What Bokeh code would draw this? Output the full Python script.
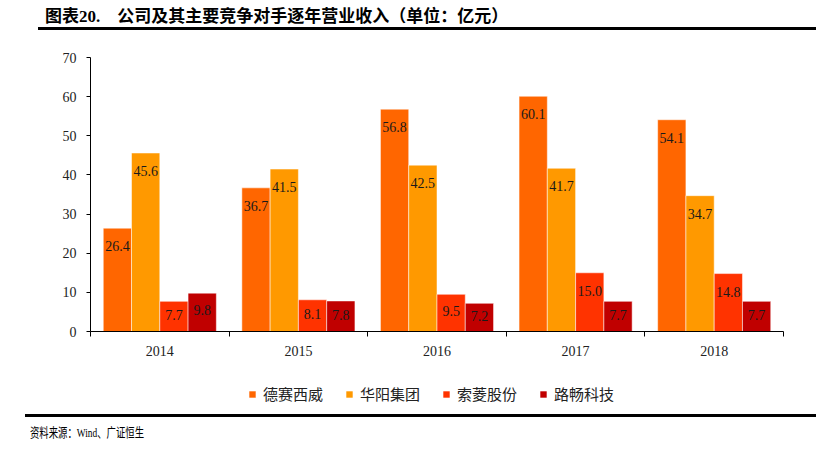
from bokeh.plotting import figure
from bokeh.models import (ColumnDataSource, FixedTicker, Legend, LegendItem,
                          Range1d, Div)
from bokeh.layouts import column
from bokeh.transform import dodge
from bokeh.core.properties import value
from bokeh.embed import file_html
from bokeh.resources import INLINE

years = ["2014", "2015", "2016", "2017", "2018"]
names = ["德赛西威", "华阳集团", "索菱股份", "路畅科技"]
desay = [26.4, 36.7, 56.8, 60.1, 54.1]
huayang = [45.6, 41.5, 42.5, 41.7, 34.7]
suoling = [7.7, 8.1, 9.5, 15.0, 14.8]
luchang = [9.8, 7.8, 7.2, 7.7, 7.7]
series = [desay, huayang, suoling, luchang]
colors = ["#FF6600", "#FF9900", "#FF3300", "#C00000"]
y_ticks = [0, 10, 20, 30, 40, 50, 60, 70]

SERIF = "Liberation Serif"
CJK = "Noto Sans CJK SC"

data = {"x": list(range(len(years)))}
for j, s in enumerate(series):
    data[f"v{j}"] = s
    data[f"t{j}"] = [f"{v:.1f}" for v in s]
    data[f"ly{j}"] = [v - min(4.6, 0.45 * v) for v in s]
src = ColumnDataSource(data)

p = figure(width=800, height=341, output_backend="svg", toolbar_location=None,
           x_range=Range1d(-0.5, len(years) - 0.5), y_range=Range1d(0, 70),
           min_border_left=90, min_border_right=17, min_border_top=24,
           min_border_bottom=43)
p.outline_line_color = None
p.background_fill_color = "white"
p.border_fill_color = "white"
p.xgrid.visible = False
p.ygrid.visible = False

w = 0.204
offsets = [-1.5 * w, -0.5 * w, 0.5 * w, 1.5 * w]
for j in range(len(series)):
    p.vbar(x=dodge("x", offsets[j]), top=f"v{j}", width=w, source=src,
           fill_color=colors[j], line_color="white", line_alpha=0.5,
           line_width=1)
    p.text(x=dodge("x", offsets[j]), y=f"ly{j}", text=f"t{j}", source=src,
           text_align="center", text_baseline="middle",
           text_font=value(SERIF), text_font_size="14px", text_color="#1a1a1a")

# x axis: labels centred on groups, ticks on group boundaries
xa = p.xaxis[0]
xa.ticker = FixedTicker(ticks=list(range(len(years))),
                        minor_ticks=[i - 0.5 for i in range(len(years) + 1)])
xa.major_label_overrides = {i: y for i, y in enumerate(years)}
xa.major_tick_out = 0
xa.major_tick_in = 0
xa.minor_tick_out = 5
xa.minor_tick_in = 0
xa.minor_tick_line_color = "black"
xa.axis_line_color = "black"
xa.major_label_standoff = 9
xa.major_label_text_font = SERIF
xa.major_label_text_font_size = "14px"
xa.major_label_text_color = "#222222"

ya = p.yaxis[0]
ya.ticker = FixedTicker(ticks=y_ticks)
ya.major_tick_out = 4
ya.major_tick_in = 0
ya.major_tick_line_color = "black"
ya.minor_tick_line_color = None
ya.axis_line_color = "black"
ya.major_label_standoff = 10
ya.major_label_text_font = SERIF
ya.major_label_text_font_size = "14px"
ya.major_label_text_color = "#222222"

# legend strip below the chart: same bars, but its y range lies above them,
# so only the legend swatches are visible
lg = figure(width=800, height=40, output_backend="svg", toolbar_location=None,
            x_range=p.x_range, y_range=Range1d(100, 200),
            x_axis_type=None, y_axis_type=None,
            min_border_left=0, min_border_right=0, min_border_top=0,
            min_border_bottom=0)
lg.outline_line_color = None
lg.xgrid.visible = False
lg.ygrid.visible = False
items = []
for j in range(len(series)):
    r = lg.vbar(x=dodge("x", offsets[j]), top=f"v{j}", width=w, source=src,
                fill_color=colors[j], line_color=None)
    items.append(LegendItem(label=names[j], renderers=[r]))
legend = Legend(items=items, orientation="horizontal", location=(158, 10),
                label_text_font=CJK, label_text_font_size="15px",
                label_text_color="#222222",
                glyph_width=8, glyph_height=8, label_standoff=7, spacing=22,
                border_line_color=None, background_fill_alpha=0,
                padding=4, margin=0)
lg.add_layout(legend, "center")

title = Div(width=816, height=33, margin=(0, 0, 0, 0), text=(
    "<div style=\"margin-left:38px;margin-top:8px;width:778px;"
    "border-bottom:3px solid #000;height:22px;line-height:18px;"
    "padding-left:7px;box-sizing:border-box;"
    "font-weight:bold;font-size:17px;color:#000;"
    "font-family:'Liberation Serif','Noto Sans CJK SC';white-space:nowrap\">"
    "图表20.&nbsp;&nbsp;&nbsp;&nbsp;公司及其主要竞争对手逐年营业收入（单位：亿元）</div>"))

source = Div(width=816, height=34, margin=(0, 0, 0, 0), text=(
    "<div style=\"margin-left:25px;width:791px;"
    "border-top:3px solid #000;padding-top:8px;padding-left:5px;"
    "color:#000;line-height:16px;white-space:nowrap\">"
    "<span style=\"display:inline-block;font-size:13px;"
    "transform:scaleX(0.72);transform-origin:left;"
    "font-family:'Liberation Serif','Noto Sans CJK SC'\">"
    "资料来源：Wind、广证恒生</span></div>"))

layout = column(title, p, lg, source, spacing=0)
open("out.html", "w").write(file_html(layout, INLINE))
